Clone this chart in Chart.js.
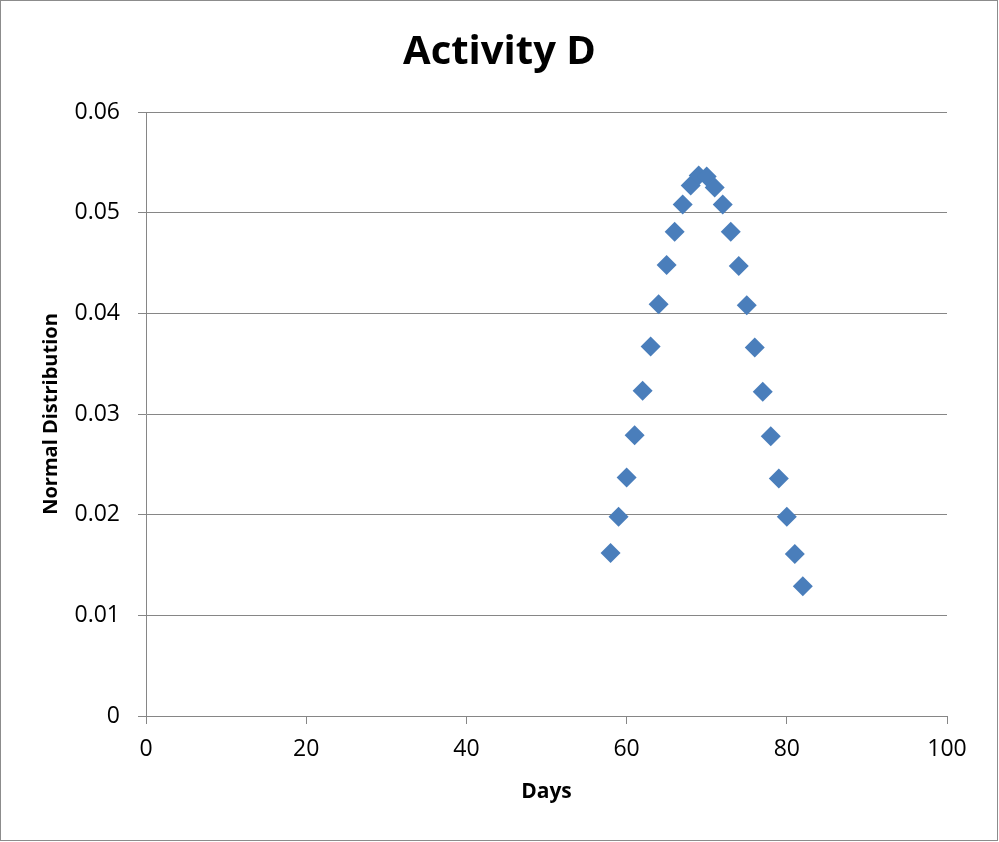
<!DOCTYPE html>
<html>
<head>
<meta charset="utf-8">
<script src="https://cdn.jsdelivr.net/npm/chart.js@4/dist/chart.umd.min.js"></script>
<style>
  html, body { margin: 0; padding: 0; background: #fff; }
  #wrap { width: 999px; height: 842px; position: relative; }
</style>
</head>
<body>
<div id="wrap"><canvas id="c" width="999" height="842"></canvas></div>
<script>
const chartTitle = "Activity D";
const xAxisTitle = "Days";
const yAxisTitle = "Normal Distribution";
const days = [58, 59, 60, 61, 62, 63, 64, 65, 66, 67, 68, 69, 70, 71, 72, 73, 74, 75, 76, 77, 78, 79, 80, 81, 82];
const normalValues = [0.0162, 0.0198, 0.0237, 0.0279, 0.0323, 0.0367, 0.0409, 0.0448, 0.0481, 0.0508, 0.0527, 0.0537,
                      0.0536, 0.0525, 0.0508, 0.0481, 0.0447, 0.0408, 0.0366, 0.0322, 0.0278, 0.0236, 0.0198, 0.0161, 0.0129];
const xTicks = [0, 20, 40, 60, 80, 100];
const yTicks = [0, 0.01, 0.02, 0.03, 0.04, 0.05, 0.06];

const points = days.map((d, i) => ({ x: d, y: normalValues[i] }));
const FONT = "'Open Sans', 'DejaVu Sans', sans-serif";
const GRID = '#868686';

const frame = {
  id: 'frame',
  beforeDraw(chart) {
    const ctx = chart.ctx;
    ctx.save();
    ctx.fillStyle = '#ffffff';
    ctx.fillRect(0, 0, chart.width, chart.height);
    ctx.restore();
  },
  afterDraw(chart) {
    const ctx = chart.ctx;
    ctx.save();
    ctx.strokeStyle = '#8c8c8c';
    ctx.lineWidth = 1;
    ctx.strokeRect(0.5, 0.5, 997, 840);
    ctx.restore();
  }
};

new Chart(document.getElementById('c'), {
  type: 'scatter',
  data: {
    datasets: [{
      data: points,
      xAxisID: 'x',
      yAxisID: 'y',
      pointStyle: 'rectRot',
      pointRadius: 10,
      pointHoverRadius: 10,
      backgroundColor: '#4A7EBB',
      borderColor: '#4A7EBB',
      borderWidth: 0
    }]
  },
  options: {
    responsive: false,
    animation: false,
    devicePixelRatio: 1,
    layout: { padding: 0 },
    plugins: {
      legend: { display: false },
      tooltip: { enabled: false },
      title: {
        display: true,
        text: chartTitle,
        color: '#000',
        font: { family: FONT, size: 40, weight: 'bold', lineHeight: 1.2 },
        padding: { top: 29, bottom: 35 }
      }
    },
    scales: {
      x: {
        type: 'linear',
        min: 0, max: 100,
        afterFit(scale) { scale.height = 126; },
        afterBuildTicks(scale) { scale.ticks = xTicks.map(v => ({ value: v })); },
        ticks: {
          color: '#000',
          font: { family: FONT, size: 23 },
          padding: 12,
          maxRotation: 0,
          callback: v => String(v)
        },
        grid: {
          display: true,
          drawOnChartArea: false,
          drawTicks: true,
          tickLength: 8,
          color: GRID,
          lineWidth: 1
        },
        border: { display: true, color: GRID, width: 1 },
        title: {
          display: true,
          text: xAxisTitle,
          color: '#000',
          font: { family: FONT, size: 21, weight: 'bold', lineHeight: 1.2 },
          padding: { top: 0, bottom: 37 }
        }
      },
      y: {
        type: 'linear',
        position: 'left',
        min: 0, max: 0.06,
        afterFit(scale) { scale.width = 146; },
        afterBuildTicks(scale) { scale.ticks = yTicks.map(v => ({ value: v })); },
        ticks: {
          color: '#000',
          font: { family: FONT, size: 23 },
          padding: 18,
          callback: v => (v === 0 ? '0' : Number(v).toFixed(2))
        },
        grid: {
          display: true,
          drawOnChartArea: true,
          drawTicks: true,
          tickLength: 8,
          color: GRID,
          lineWidth: 1
        },
        border: { display: true, color: GRID, width: 1 },
        title: {
          display: true,
          text: yAxisTitle,
          color: '#000',
          font: { family: FONT, size: 20, weight: 'bold', lineHeight: 1.2 },
          padding: { top: 39, bottom: 0 }
        }
      },
      yRight: {
        type: 'linear',
        position: 'right',
        min: 0, max: 0.06,
        afterFit(scale) { scale.width = 52; },
        ticks: { display: false },
        grid: { display: false, drawTicks: false },
        border: { display: false },
        title: { display: false }
      }
    }
  },
  plugins: [frame]
});
</script>
</body>
</html>
